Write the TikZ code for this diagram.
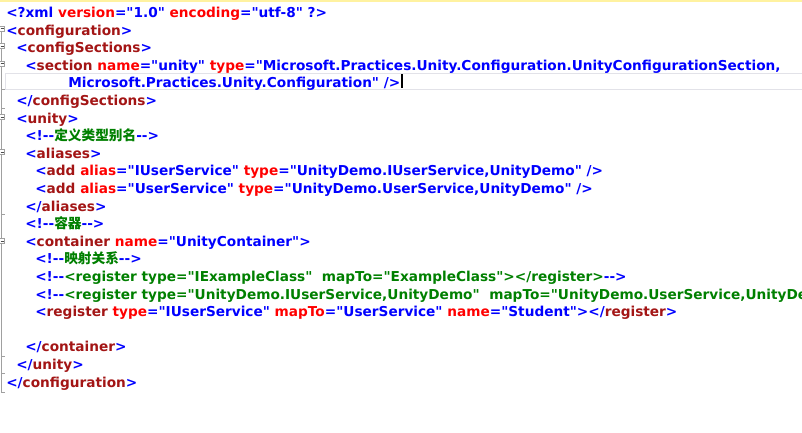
\documentclass[tikz,border=0pt]{standalone}
\usepackage{fontspec}
\newfontfamily\codefont{DejaVu Sans}
\newfontfamily\cjk{Noto Sans CJK SC}
\definecolor{tagblue}{HTML}{0000FF}
\definecolor{elemred}{HTML}{A31515}
\definecolor{attrred}{HTML}{FF0000}
\definecolor{comgreen}{HTML}{008000}
\definecolor{gutgray}{HTML}{A0A0A0}
\definecolor{linegray}{HTML}{E2E2E8}
\definecolor{topyellow}{HTML}{FFF2A0}
% xml colouring
\newcommand{\xtag}[1]{\textcolor{tagblue}{#1}}
\newcommand{\xelem}[1]{\textcolor{elemred}{#1}}
\newcommand{\xattr}[1]{\textcolor{attrred}{#1}}
\newcommand{\xval}[1]{\textcolor{tagblue}{#1}}
\newcommand{\xcom}[1]{\textcolor{comgreen}{#1}}
\newcommand{\xcopen}{\xtag{<!-{}-}}
\newcommand{\xcclose}{\xtag{-{}->}}
\tikzset{code/.style={anchor=base west, inner sep=0pt,
    font=\codefont\bfseries\fontsize{10.25}{12}\selectfont}}
\begin{document}
\begin{tikzpicture}[x=0.75pt, y=-0.75pt]
\useasboundingbox (0,0) rectangle (802,432);
\begin{scope}
\clip (0,0) rectangle (802,432);
\fill[white] (0,0) rectangle (802,432);
\draw[topyellow, line width=1.5pt] (0,0.5) -- (802,0.5);
% current line
\draw[linegray] (5,73) rectangle (810,89);
\draw[black, line width=0.8pt] (402,74) -- (402,88);
% gutter
\draw[gutgray] (1.5,31) -- (1.5,392) -- (5,392);
\foreach \y in {89,108,214,356,373}
  \draw[gutgray] (1.5,\y) -- (5,\y);
\foreach \y in {28.5,46,63.5,117,152,241} {
  \draw[gutgray, fill=white] (-0.5,\y-2.5) rectangle (4.5,\y+2.5);
  \draw[black!70] (0.5,\y) -- (3.5,\y);
}
% text lines
\node[code] (l1) at (6,17.5) {\xtag{<?xml} \xattr{version}\xtag{=}\xval{"1.0"} \xattr{encoding}\xtag{=}\xval{"utf-8"} \xtag{?>}};
\node[code] (l2) at (6,35.1) {\xtag{<}\xelem{configuration}\xtag{>}};
\node[code] (l3) at (16,52.7) {\xtag{<}\xelem{configSections}\xtag{>}};
\node[code] (l4) at (25,70.3) {\xtag{<}\xelem{section} \xattr{name}\xtag{=}\xval{"unity"} \xattr{type}\xtag{=}\xval{"Microsoft.Practices.Unity.Configuration.UnityConfigurationSection,}};
\node[code] (l5) at (68,87.9) {\xval{Microsoft.Practices.Unity.Configuration"} \xtag{/>}};
\node[code] (l6) at (16,105.5) {\xtag{</}\xelem{configSections}\xtag{>}};
\node[code] (l7) at (16,123.1) {\xtag{<}\xelem{unity}\xtag{>}};
\node[code] (l8) at (25,140.7) {\xcopen\xcom{\cjk 定义类型别名}\xcclose};
\node[code] (l9) at (25,158.3) {\xtag{<}\xelem{aliases}\xtag{>}};
\node[code] (l10) at (35,175.9) {\xtag{<}\xelem{add} \xattr{alias}\xtag{=}\xval{"IUserService"} \xattr{type}\xtag{=}\xval{"UnityDemo.IUserService,UnityDemo"} \xtag{/>}};
\node[code] (l11) at (35,193.5) {\xtag{<}\xelem{add} \xattr{alias}\xtag{=}\xval{"UserService"} \xattr{type}\xtag{=}\xval{"UnityDemo.UserService,UnityDemo"} \xtag{/>}};
\node[code] (l12) at (25,211.1) {\xtag{</}\xelem{aliases}\xtag{>}};
\node[code] (l13) at (25,228.7) {\xcopen\xcom{\cjk 容器}\xcclose};
\node[code] (l14) at (25,246.3) {\xtag{<}\xelem{container} \xattr{name}\xtag{=}\xval{"UnityContainer"}\xtag{>}};
\node[code] (l15) at (35,263.9) {\xcopen\xcom{\cjk 映射关系}\xcclose};
\node[code] (l16) at (35,281.5) {\xcopen\xcom{<register type="IExampleClass"\ \ mapTo="ExampleClass"></register>}\xcclose};
\node[code] (l17) at (35,299.1) {\xcopen\xcom{<register type="UnityDemo.IUserService,UnityDemo"\ \ mapTo="UnityDemo.UserService,UnityDe}};
\node[code] (l18) at (35,316.7) {\xtag{<}\xelem{register} \xattr{type}\xtag{=}\xval{"IUserService"} \xattr{mapTo}\xtag{=}\xval{"UserService"} \xattr{name}\xtag{=}\xval{"Student"}\xtag{></}\xelem{register}\xtag{>}};
\node[code] (l20) at (25,351.9) {\xtag{</}\xelem{container}\xtag{>}};
\node[code] (l21) at (16,369.5) {\xtag{</}\xelem{unity}\xtag{>}};
\node[code] (l22) at (6,387.1) {\xtag{</}\xelem{configuration}\xtag{>}};
\end{scope}
\end{tikzpicture}
\end{document}
